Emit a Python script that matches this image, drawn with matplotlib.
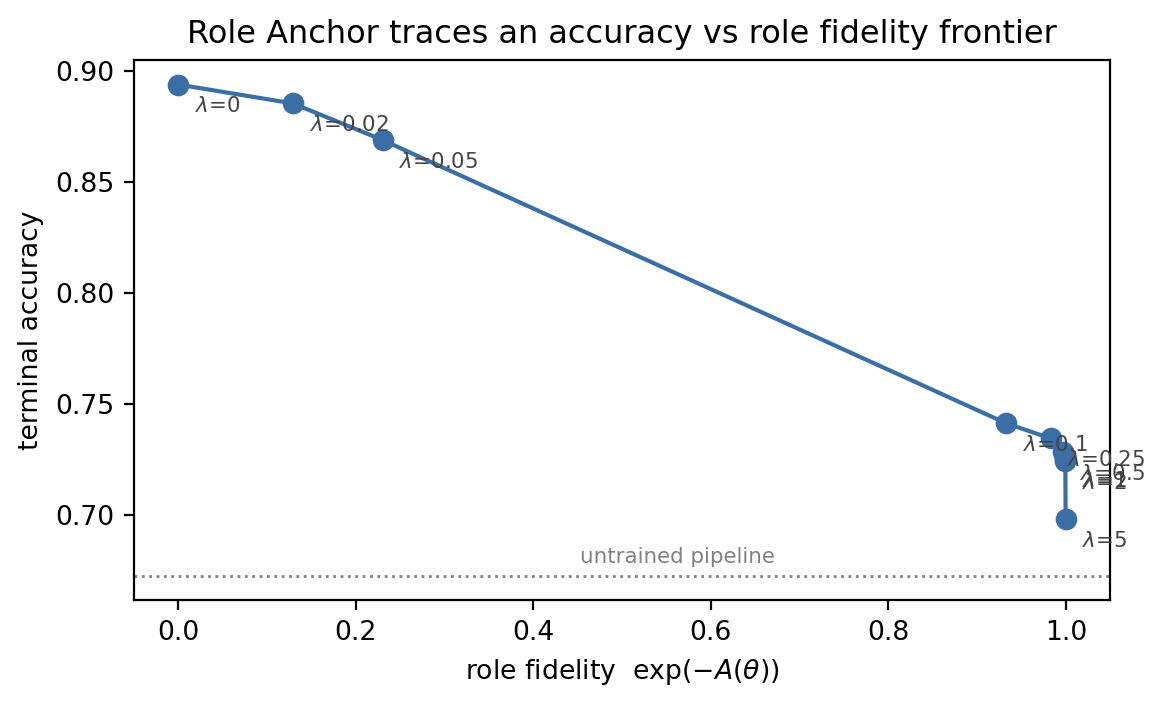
import matplotlib
matplotlib.use("Agg")
import matplotlib.pyplot as plt

lambdas = ["0", "0.02", "0.05", "0.1", "0.25", "0.5", "1", "2", "5"]
fidelity = [0.0, 0.129, 0.230, 0.933, 0.983, 0.997, 0.999, 0.9995, 0.9999]
accuracy = [0.894, 0.8855, 0.869, 0.7413, 0.7345, 0.7285, 0.7250, 0.7242, 0.698]
untrained = 0.6727

fig = plt.figure(figsize=(5.83, 3.53), dpi=200)
ax = fig.add_axes([0.115, 0.150, 0.837, 0.765])
color = "#3a6ea5"
ax.plot(fidelity, accuracy, "-o", color=color, lw=1.5, ms=6.8)
for lam, x, y in zip(lambdas, fidelity, accuracy):
    ax.annotate(rf"$\lambda$={lam}", (x, y), xytext=(6, -10),
                textcoords="offset points", fontsize=7.7, color="#444444")
ax.axhline(untrained, color="gray", ls=":", lw=1)
ax.text(0.452, untrained + 0.0055, "untrained pipeline", fontsize=7.7, color="gray")
ax.tick_params(labelsize=9.6)
ax.set_xlabel(r"role fidelity  $\exp(-A(\theta))$", fontsize=9.6)
ax.set_ylabel("terminal accuracy", fontsize=9.6)
ax.set_title("Role Anchor traces an accuracy vs role fidelity frontier", fontsize=11.5)
fig.savefig("out.png", dpi=200)
